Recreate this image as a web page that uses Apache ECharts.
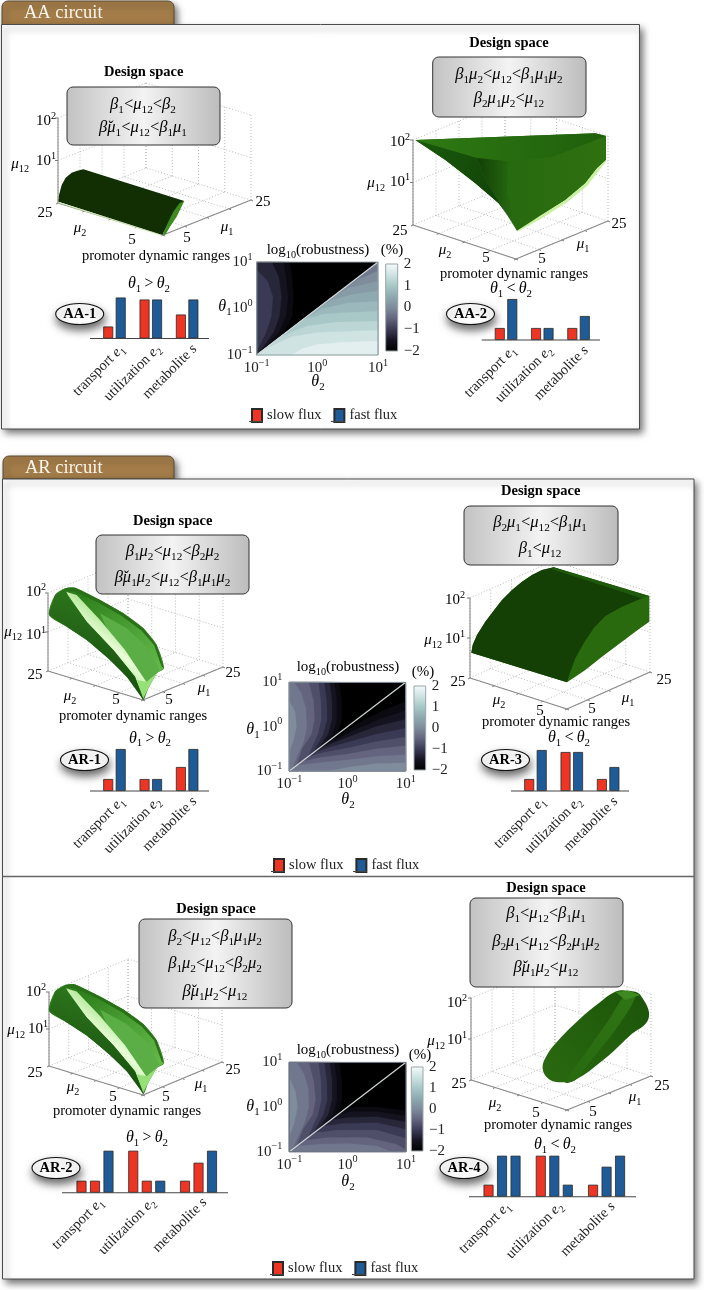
<!DOCTYPE html>
<html><head><meta charset="utf-8">
<style>html,body{margin:0;padding:0;background:#fff}#c{width:704px;height:1290px}</style>
<script src="https://cdn.jsdelivr.net/npm/echarts@6/dist/echarts.min.js"></script>
</head><body><div id="c"></div>
<script>
// ---------- bar data (relative promoter levels) ----------
const barCategories = ['transport ~e_1', 'utilization ~e_2', 'metabolite ~s'];
const aa1Slow = [12, 39, 24], aa1Fast = [41, 39, 39];
const aa2Slow = [12, 12, 12], aa2Fast = [41, 12, 24];
const ar1Slow = [12, 12, 24], ar1Fast = [42, 12, 42];
const ar3Slow = [12, 39, 12], ar3Fast = [41, 39, 24];
const ar2First = [12, 42, 12], ar2Second = [12, 12, 30], ar2Third = [42, 12, 42];
const ar2FirstFlux = ['slow', 'slow', 'slow'], ar2SecondFlux = ['slow', 'slow', 'slow'], ar2ThirdFlux = ['fast', 'fast', 'fast'];
const ar4First = [12, 41, 12], ar4Second = [41, 41, 30], ar4Third = [41, 12, 41];
const ar4FirstFlux = ['slow', 'slow', 'slow'], ar4SecondFlux = ['fast', 'fast', 'fast'], ar4ThirdFlux = ['fast', 'fast', 'fast'];
// ---------- tick labels ----------
const colorbarTicks = [-2, -1, 0, 1, 2];
const muTicks = [5, 10, 15, 20, 25];
const logMu12Ticks = [1, 2];
// ---------- robustness maps: contour lines.
// Level letters: a=-2 ... q=+2 in 0.25 steps. Points are [column,row] on a 24x24 log-theta lattice (row 0 = theta1 10^1).
const aaUpperBase = 'a', aaLowerBase = 'h';
const aaUpperBands = [
 ['b',[[6.5,0],[7,4],[7.3,9],[7,14],[5.5,18],[3,21],[0,24]]],
 ['c',[[5.3,0],[5.8,4],[6.2,9],[5.8,14],[4.5,18],[2.4,21],[0,24]]],
 ['d',[[3,0],[4.4,4],[4.9,9],[4.5,14],[3.4,18],[1.8,21],[0,24]]],
 ['e',[[0,2],[2.2,5],[3.2,9],[2.9,14],[1.9,18],[0.8,21],[0,23]]]
];
const aaLowerBands = [
 ['i',[[17,7],[20,4.5],[24,2.3]]],
 ['j',[[14.5,9.5],[18,6.8],[24,4.9]]],
 ['k',[[12,12],[15,9.8],[19,8.3],[24,7.5]]],
 ['l',[[9.5,14.5],[13,12],[18,10.6],[24,10.1]]],
 ['m',[[7,17],[9,15],[13,13.5],[18,13],[24,12.7]]],
 ['n',[[4,20],[7,18],[10,16.5],[16,15.5],[24,15.3]]],
 ['o',[[1.5,22.5],[4,21],[7,19.3],[12,18.2],[24,17.6]]],
 ['p',[[7,24],[9,22.4],[12,21.3],[17,20.7],[24,20.4]]]
];
const ar1UpperBase = 'a', ar1LowerBase = 'a';
const ar1UpperBands = [
 ['b',[[10.3,0],[10.8,5],[10.8,10],[10,14],[7.8,16.2]]],
 ['c',[[9.3,0],[9.8,5],[9.8,10],[9,14],[6.8,17.2]]],
 ['d',[[8.3,0],[8.8,5],[8.8,10],[8,14],[5.8,18.2]]],
 ['e',[[7.2,0],[7.7,5],[7.8,10],[7,14],[4.8,19.2]]],
 ['f',[[6,0],[6.5,5],[6.6,10],[5.9,14],[3.8,20.2]]],
 ['g',[[4,0],[5,5],[5.2,10],[4.6,14],[2.6,18],[1.5,22.5]]],
 ['h',[[1,0],[2.5,3],[3.4,7],[3.6,12],[3,16],[1.6,20],[0.6,23.4]]],
 ['i',[[0,5],[1.2,8],[1.5,12],[0.8,16],[0,19]]]
];
const ar1LowerBands = [
 ['b',[[7.8,16.2],[11,13.8],[15,10.5],[19,7.8],[24,5.2]]],
 ['c',[[6.8,17.2],[10,15.2],[14,12.6],[19,9.8],[24,7.6]]],
 ['d',[[5.8,18.2],[9,16.4],[13,14.4],[18,11.9],[24,10]]],
 ['e',[[4.8,19.2],[8,17.7],[12,16.2],[18,14],[24,12.4]]],
 ['f',[[3.8,20.2],[7,19],[12,17.8],[18,16],[24,14.8]]],
 ['g',[[2.6,21.4],[6,20.4],[12,19.4],[18,18],[24,17.2]]],
 ['h',[[1.5,22.5],[6,21.8],[12,21],[18,20],[24,19.6]]],
 ['i',[[8,24],[12,23],[18,22],[24,21.8]]]
];
const ar2UpperBase = 'a', ar2LowerBase = 'a';
const ar2UpperBands = [
 ['b',[[10.3,0],[10.8,5],[10.8,10],[10,14],[7.8,16.2]]],
 ['c',[[9.3,0],[9.8,5],[9.8,10],[9,14],[6.8,17.2]]],
 ['d',[[8.3,0],[8.8,5],[8.8,10],[8,14],[5.8,18.2]]],
 ['e',[[7.2,0],[7.7,5],[7.8,10],[7,14],[4.8,19.2]]],
 ['f',[[6,0],[6.5,5],[6.6,10],[5.9,14],[3.8,20.2]]],
 ['g',[[4,0],[5,5],[5.4,10],[4.8,14],[2.8,18],[1.5,22.5]]],
 ['h',[[1.5,0],[3,3],[3.9,7],[4,12],[3.2,16],[1.8,20],[0.6,23.4]]],
 ['i',[[0,4],[1.3,8],[1.7,12],[1,16.5],[0,20]]]
];
const ar2LowerBands = [
 ['b',[[11.5,12.5],[14,12],[18,12],[24,13]]],
 ['c',[[10,14],[13,13.2],[18,13.2],[24,14.4]]],
 ['d',[[8.5,15.5],[12,14.8],[18,14.6],[24,16]]],
 ['e',[[6.8,17.2],[11,16.4],[18,16.2],[24,18]]],
 ['f',[[5,19],[10,18.2],[18,18.2],[24,20.4]]],
 ['g',[[3,21],[8,20.2],[16,20.2],[22,22],[24,23.5]]],
 ['h',[[1.5,22.5],[6,22],[12,21.8],[18,22.5],[21,24]]]
];
const colorStops = ['#000000','#15131f','#3b3a55','#64647e','#7e8c9c','#8eaab0','#a8c8c8','#cfe3e3','#f6fbfb'];
// ---------- 3-D frames: corners of the box as seen in the picture ----------
const frames = [
 {L:[58,203],F:[163,235],R:[251,200],H:85},
 {L:[413,225],F:[516,259],R:[608,221],H:85},
 {L:[48,671],F:[143,700],R:[223,667],H:78},
 {L:[470,678],F:[567,709],R:[650,672],H:80},
 {L:[49,1066],F:[143,1095],R:[222,1062],H:74},
 {L:[471,1080],F:[567,1110],R:[651,1076],H:82}
];
const frameLabels = [
 {t2:[56,121],t1:[56,161],m:[29,164],a:[45,213],b:[80,228],c:[132,240],d:[187,238],e:[227,227],f:[263,202],p:[156,256]},
 {t2:[410,142],t1:[410,182],m:[385,183],a:[400,231],b:[445,250],c:[486,258],d:[542,259],e:[583,244],f:[619,224],p:[514,274]},
 {t2:[46,592],t1:[46,635],m:[22,632],a:[35,675],b:[70,696],c:[116,700],d:[169,700],e:[204,688],f:[233,673],p:[133,716]},
 {t2:[465,600],t1:[465,639],m:[442,640],a:[458,682],b:[499,700],c:[540,711],d:[592,709],e:[628,698],f:[664,680],p:[556,722]},
 {t2:[46,992],t1:[48,1029],m:[25,1030],a:[35,1073],b:[73,1087],c:[113,1097],d:[166,1097],e:[201,1084],f:[233,1070],p:[127,1111]},
 {t2:[467,1003],t1:[467,1040],m:[445,1041],a:[459,1084],b:[495,1103],c:[536,1113],d:[593,1112],e:[635,1097],f:[662,1086],p:[558,1125]}
];
// ---------- surfaces: outline facets ----------
const aa1Facets = [
 {p:[[175,605],[177,585],[185,555],[197,533],[215,518],[232,512],[250,508],[553,603],[542,612],[530,625],[515,650],[500,680],[487,705]],c:'#112f03'},
 {p:[[553,603],[538,610],[520,635],[505,665],[487,705],[497,703],[510,680],[530,650]],c:'#3e8a1e'},
 {p:[[175,605],[487,705],[487,708],[175,609]],c:'#cfe8b0'}
];
const aa2Facets = [
 {p:[[190,360],[730,340],[762,348],[762,420],[735,445],[700,490],[640,540],[560,590],[530,615],[495,632],[480,600],[440,550],[370,490],[280,420]],c:'#2a6a10'},
 {p:[[190,360],[730,340],[762,348],[600,412],[470,424],[375,414]],g:[0,0,1,0,['#2f7a14','#1f5f0b']]},
 {p:[[190,360],[375,414],[400,480],[495,632],[465,585],[440,550],[370,490],[280,420]],g:[0,0,1,1,['#1a5a0c','#0e3a06']]},
 {p:[[375,414],[470,424],[465,510],[495,632],[400,480]],g:[0,0,1,0,['#123f06','#2a6f12']]},
 {p:[[470,424],[600,412],[762,348],[762,420],[735,445],[700,490],[640,540],[560,590],[495,632],[465,510]],g:[0,0,1,0,['#276a0f','#2f7010']]},
 {p:[[495,632],[560,590],[640,540],[700,490],[735,445],[762,420],[762,425],[742,450],[706,497],[646,546],[566,597],[500,633]],c:'#c8f0a0'}
];
const ar1Facets = [
 {s:0.25,p:[[147,405],[165,345],[195,325],[225,323],[300,360],[370,400],[430,445],[470,495],[492,565],[470,580],[445,625],[430,660],[415,630],[380,590],[330,540],[260,480],[200,440]],c:'#2f7f1c'},
 {p:[[225,323],[300,360],[370,400],[430,445],[470,495],[492,565],[470,580],[445,625],[400,560],[330,470],[225,345]],g:[0,0,1,1,['#2a7a18','#4aa034','#6cc050']]},
 {p:[[300,400],[380,445],[440,500],[478,570],[470,580],[445,620],[400,550],[330,465]],c:'#5bad45'},
 {p:[[197,335],[230,345],[300,420],[375,510],[445,615],[430,650],[405,590],[340,510],[260,425]],g:[0,1,1,0,['#2f7f1c','#7ccc60','#eaffd8','#8fd870','#4fa53a']]},
 {p:[[147,405],[165,345],[195,326],[205,350],[260,425],[340,510],[405,590],[430,660],[380,590],[330,540],[260,480],[200,440]],g:[0.6,0,0.3,1,['#2f7a1e','#14480c']]},
 {p:[[410,600],[440,605],[470,580],[445,625],[430,655]],c:'#96e078'},
 {p:[[195,325],[225,323],[300,360],[370,400],[430,445],[470,495],[492,565],[485,560],[462,495],[425,452],[365,408],[295,368],[225,335],[200,333]],c:'#2a7018'}
];
const ar3Facets = [
 {p:[[358,518],[362,495],[375,465],[400,425],[425,392],[450,360],[480,330],[510,305],[540,285],[570,270],[605,262],[892,348],[892,425],[860,448],[830,470],[790,500],[750,530],[700,570],[670,590],[645,607]],c:'#2a6a0f'},
 {p:[[358,518],[362,495],[375,465],[400,425],[425,392],[450,360],[480,330],[510,305],[540,285],[570,270],[605,262],[870,355],[810,380],[760,408],[725,445],[695,490],[670,535],[655,575],[645,607]],c:'#143f05'},
 {p:[[605,262],[892,348],[870,355],[600,268]],c:'#1f5a0c'}
];
const ar4Facets = [
 {s:0.4,p:[[572,565],[585,525],[620,480],[680,420],[740,370],[790,335],[830,332],[865,345],[890,415],[830,470],[760,535],[670,600],[630,607],[590,597]],g:[0,1,1,0,['#2a6a10','#1c5409']]},
 {s:0.3,p:[[820,345],[850,350],[790,450],[710,550],[670,600],[640,607],[700,520],[770,420]],g:[0,1,1,0,['#276a10','#2f7414']]},
 {p:[[790,335],[830,332],[865,345],[820,360]],c:'#3f8a20'}
];

const FONT = 'Liberation Serif', INK = '#222';
const rich = (s, b) => ({
  n:{fontFamily:FONT,fontSize:s,fontWeight:b?'bold':'normal',color:INK,lineHeight:s+5},
  it:{fontFamily:FONT,fontSize:s,fontStyle:'italic',color:INK,lineHeight:s+5},
  sub:{fontFamily:FONT,fontSize:s*0.68,color:INK,verticalAlign:'bottom'},
  sup:{fontFamily:FONT,fontSize:s*0.68,color:INK,verticalAlign:'top'}
});
function rt(str){
  const re=/_\{([^}]*)\}|_(.)|\^\{([^}]*)\}|\^(.)|~(.)|([βμθ]\u030C?)|([^_^~βμθ]+)/g;
  let out='',m;
  while((m=re.exec(str))){
    if(m[1]!==undefined||m[2]!==undefined) out+='{sub|'+(m[1]||m[2])+'}';
    else if(m[3]!==undefined||m[4]!==undefined) out+='{sup|'+(m[3]||m[4])+'}';
    else if(m[5]||m[6]) out+='{it|'+(m[5]||m[6])+'}';
    else out+='{n|'+m[7]+'}';
  }
  return out;
}
const tenLabel = v => rt('10^{'+(v<0?'\u2212':'')+Math.abs(v)+'}');

// ---------- option containers ----------
const grids=[{left:0,top:0,width:704,height:1290}];
const xAxes=[{type:'value',min:0,max:704,show:false,gridIndex:0}];
const yAxes=[{type:'value',min:0,max:1290,inverse:true,show:false,gridIndex:0}];
const series=[];
const g=[]; // graphic elements

// ---------- frames ----------
series.push({type:'custom',name:'frames',xAxisIndex:0,yAxisIndex:0,clip:false,silent:true,z:2,
 data:frames.map((f,i)=>[i,0]),
 renderItem(_,api){
  const f=frames[api.value(0)], kids=[];
  const B=[f.L[0]+f.R[0]-f.F[0],f.L[1]+f.R[1]-f.F[1]];
  const lerp=(a,b,t)=>[a[0]+(b[0]-a[0])*t,a[1]+(b[1]-a[1])*t];
  const up=(p,z)=>[p[0],p[1]-f.H*z/2];
  const seg=(a,b,dash,col,w)=>{const A=api.coord(a),C=api.coord(b);kids.push({type:'line',shape:{x1:A[0],y1:A[1],x2:C[0],y2:C[1]},style:{stroke:col,lineWidth:w,lineDash:dash?[1,2]:null}});};
  muTicks.forEach(m=>{const t=(m-5)/20;
    seg(lerp(f.F,f.R,t),lerp(f.L,B,t),1,'#bcbcbc',1);
    seg(lerp(f.F,f.L,t),lerp(f.R,B,t),1,'#bcbcbc',1);
    const a=lerp(f.L,B,t),b=lerp(B,f.R,t);
    seg(a,up(a,2),1,'#bcbcbc',1);
    seg(b,up(b,2),1,'#bcbcbc',1);
    const e=lerp(f.F,f.R,t),h=lerp(f.F,f.L,t);
    seg(e,[e[0]+2,e[1]+1],0,'#777',1);
    seg(h,[h[0]-2,h[1]+1],0,'#777',1);
  });
  logMu12Ticks.forEach(z=>{seg(up(f.L,z),up(B,z),1,'#bcbcbc',1);seg(up(B,z),up(f.R,z),1,'#bcbcbc',1);seg(up(f.L,z),[f.L[0]-3,up(f.L,z)[1]],0,'#777',1);});
  seg(f.L,f.F,0,'#8a8a8a',1.1);seg(f.F,f.R,0,'#8a8a8a',1.1);seg(f.L,up(f.L,2),0,'#8a8a8a',1.1);
  return {type:'group',children:kids};
 }});
// ---------- surfaces ----------
const off=(fs,ox,oy,sy,dy)=>fs.map(f=>Object.assign({},f,{p:f.p.map(q=>[ox+q[0]/3,oy+(q[1]*(sy||1)+(dy||0))/3])}));
const facets=[].concat(off(aa1Facets,0,0),off(aa2Facets,352,20),off(ar1Facets,0,480),off(ar3Facets,352,480),off(ar1Facets,0,880,0.976,-2),off(ar4Facets,352,880));
series.push({type:'custom',name:'surfaces',xAxisIndex:0,yAxisIndex:0,clip:false,silent:true,z:3,
 data:facets.map((f,i)=>[i,0]),
 renderItem(_,api){
  const f=facets[api.value(0)];
  let fill=f.c;
  if(f.g){const st=f.g[4];fill=new echarts.graphic.LinearGradient(f.g[0],f.g[1],f.g[2],f.g[3],st.map((c,i)=>({offset:i/(st.length-1),color:c})));}
  return {type:'polygon',shape:{points:f.p.map(q=>api.coord(q)),smooth:f.s||0},style:{fill:fill}};
 }});

// ---------- bars ----------
const RED='#ee3524', BLUE='#1f5b96';
const barStyle=c=>({color:c,borderColor:'#2a2a2a',borderWidth:0.8});
function addBars(cfg){
 const i=grids.length, H=44;
 grids.push({left:cfg.left,width:cfg.width,top:cfg.base-H,height:H});
 xAxes.push({type:'category',gridIndex:i,data:barCategories,axisTick:{show:false},axisLine:{show:false},
  axisLabel:{interval:0,rotate:45,margin:cfg.margin,padding:[0,-cfg.pad,0,0],formatter:v=>rt(v),rich:rich(14.5)}});
 yAxes.push({type:'value',gridIndex:i,min:0,max:H,show:false});
 cfg.series.forEach(s=>series.push({type:'bar',name:s.name,xAxisIndex:i,yAxisIndex:i,barWidth:10,barGap:cfg.gap,
   itemStyle:barStyle(s.flux?RED:(s.name==='slow flux'?RED:BLUE)),
   data:s.flux?s.data.map((v,k)=>({value:v,itemStyle:barStyle(s.flux[k]==='slow'?RED:BLUE)})):s.data}));
}
const two=(a,b)=>[{name:'slow flux',data:a},{name:'fast flux',data:b}];
addBars({left:96.3,width:109,base:338.5,gap:'25%',margin:16,pad:11,series:two(aa1Slow,aa1Fast)});
addBars({left:487.9,width:108.8,base:340,gap:'25%',margin:16,pad:11,series:two(aa2Slow,aa2Fast)});
addBars({left:96.3,width:109,base:791,gap:'25%',margin:16,pad:11,series:two(ar1Slow,ar1Fast)});
addBars({left:517.3,width:109,base:791,gap:'25%',margin:16,pad:11,series:two(ar3Slow,ar3Fast)});
addBars({left:69.1,width:155.3,base:1192.7,gap:'35%',margin:14,pad:9,series:[{name:'AR-2 first',data:ar2First,flux:ar2FirstFlux},{name:'AR-2 second',data:ar2Second,flux:ar2SecondFlux},{name:'AR-2 third',data:ar2Third,flux:ar2ThirdFlux}]});
addBars({left:475.9,width:156.8,base:1196.7,gap:'35%',margin:14,pad:9,series:[{name:'AR-4 first',data:ar4First,flux:ar4FirstFlux},{name:'AR-4 second',data:ar4Second,flux:ar4SecondFlux},{name:'AR-4 third',data:ar4Third,flux:ar4ThirdFlux}]});

// ---------- robustness maps ----------
const levelOf=ch=>-2+0.25*(ch.charCodeAt(0)-97);
const toTheta=q=>[-1+q[0]/12,1-q[1]/12];
const heatSeriesIdx=[];
function addHeat(cfg){
 const i=grids.length;
 grids.push({left:cfg.x0,width:cfg.x1-cfg.x0,top:cfg.y0,height:cfg.y1-cfg.y0});
 const ax=m=>({type:'value',gridIndex:i,min:-1,max:1,interval:1,axisLine:{show:false},axisTick:{show:false},splitLine:{show:false},
   axisLabel:{formatter:v=>tenLabel(v),rich:rich(15),margin:m,showMinLabel:true,showMaxLabel:true,hideOverlap:false}});
 xAxes.push(ax(3));yAxes.push(ax(cfg.yMargin));
 const data=[[levelOf(cfg.upBase),0,-1]];
 cfg.up.forEach((b,k)=>data.push([levelOf(b[0]),0,k]));
 data.push([levelOf(cfg.lowBase),1,-1]);
 cfg.low.forEach((b,k)=>data.push([levelOf(b[0]),1,k]));
 heatSeriesIdx.push(series.length);
 series.push({type:'custom',name:cfg.name,xAxisIndex:i,yAxisIndex:i,silent:true,clip:false,data,
  renderItem(_,api){
   const kind=api.value(1),k=api.value(2);
   let pts;
   if(k<0) pts=kind===0?[[0,24],[0,0],[24,0]]:[[0,24],[24,0],[24,24]];
   else if(kind===0) pts=[[0,0]].concat(cfg.up[k][1],[[0,24]]);
   else pts=cfg.low[k][1].concat([[24,24],[0,24]]);
   const col=api.visual('color');
   return {type:'polygon',shape:{points:pts.map(q=>api.coord(toTheta(q)))},style:{fill:col,stroke:col,lineWidth:0.2}};
  }});
 series.push({type:'line',xAxisIndex:i,yAxisIndex:i,silent:true,symbol:'none',z:4,lineStyle:{color:'#cfd6d6',width:1.2},data:[[-1,-1],[1,1]]});
 series.push({type:'line',xAxisIndex:i,yAxisIndex:i,silent:true,symbol:'none',z:4,lineStyle:{color:cfg.edge,width:1.2},data:[[-1,-1],[1,-1],[1,1],[-1,1],[-1,-1]]});
 // colour bar
 const j=grids.length;
 grids.push({left:cfg.cx0,width:cfg.cx1-cfg.cx0,top:cfg.cy0,height:cfg.cy1-cfg.cy0});
 xAxes.push({type:'value',gridIndex:j,min:0,max:1,show:false});
 yAxes.push({type:'value',gridIndex:j,min:colorbarTicks[0],max:colorbarTicks[4],interval:1,position:'right',axisLine:{show:false},axisTick:{show:false},splitLine:{show:false},
   axisLabel:{margin:6,fontFamily:FONT,fontSize:15,color:INK,formatter:v=>(v<0?'\u2212':'')+Math.abs(v)}});
 series.push({type:'custom',name:cfg.name+' colour bar',xAxisIndex:j,yAxisIndex:j,silent:true,clip:false,data:[[0,colorbarTicks[0],1,colorbarTicks[4]]],encode:{x:[0,2],y:[1,3]},
  renderItem(_,api){
   const a=api.coord([api.value(0),api.value(1)]),b=api.coord([api.value(2),api.value(3)]);
   return {type:'rect',shape:{x:a[0],y:b[1],width:b[0]-a[0],height:a[1]-b[1]},
    style:{stroke:'#9aa6a8',lineWidth:1,fill:new echarts.graphic.LinearGradient(0,1,0,0,colorStops.map((c,k)=>({offset:k/(colorStops.length-1),color:c})))}};
  }});
}
addHeat({name:'AA map',x0:256.7,x1:378,y0:262,y1:355,cx0:385.7,cx1:397.7,cy0:264,cy1:351,yMargin:4,up:aaUpperBands,low:aaLowerBands,upBase:aaUpperBase,lowBase:aaLowerBase,edge:'#8f9fa4'});
addHeat({name:'AR-1/3 map',x0:289.3,x1:405.7,y0:682.3,y1:771,cx0:414,cx1:425.7,cy0:686,cy1:770,yMargin:7,up:ar1UpperBands,low:ar1LowerBands,upBase:ar1UpperBase,lowBase:ar1LowerBase,edge:'#7d8a96'});
addHeat({name:'AR-2/4 map',x0:289.3,x1:406,y0:1062.3,y1:1151.7,cx0:411.3,cx1:423,cy0:1067,cy1:1151,yMargin:7,up:ar2UpperBands,low:ar2LowerBands,upBase:ar2UpperBase,lowBase:ar2LowerBase,edge:'#6d7484'});

// ---------- baselines and legend underlines ----------
const legends=[[251,408],[273,858],[272,1261]];
const rules=[[90,209,338.5],[481.7,600,340],[90,209,791],[511,629,791],[62,228,1192.7],[469,636,1196.7]];
const underlines=[];
legends.forEach(l=>{underlines.push([l[0]-2,l[0]+12,l[1]+13.5]);underlines.push([l[0]+80,l[0]+94,l[1]+13.5]);});
series.push({type:'custom',name:'baselines',xAxisIndex:0,yAxisIndex:0,clip:false,silent:true,z:5,
 data:rules.concat(underlines),
 renderItem(_,api){
  const a=api.coord([api.value(0),api.value(2)]),b=api.coord([api.value(1),api.value(2)]);
  return {type:'line',shape:{x1:a[0],y1:a[1],x2:b[0],y2:b[1]},style:{stroke:'#444',lineWidth:1.1}};
 }});

// ---------- panels ----------
const SH={shadowBlur:7,shadowOffsetX:3,shadowOffsetY:4,shadowColor:'rgba(0,0,0,0.55)'};
function panel(x,y,w,h){g.push({type:'rect',z:0,silent:true,shape:{x,y,width:w,height:h},style:Object.assign({fill:'#fff',stroke:'#4a4a4a',lineWidth:1},SH)});}
function tab(x,y,w,h,t){
 g.push({type:'rect',z:0,silent:true,shape:{x,y,width:w,height:h,r:[6,6,0,0]},style:Object.assign({fill:'#a37c49',stroke:'#5a4a30',lineWidth:1},SH)});
 g.push({type:'text',z:1,silent:true,style:{text:t,x:x+22,y:y+h/2+0.5,verticalAlign:'middle',fill:'#fbf6ec',font:'18.5px "'+FONT+'"'}});
}
tab(2,1,172,23.5,'AA circuit');tab(3,456,171,23,'AR circuit');
panel(1.5,24.5,638,404.5);panel(2.5,479,691.5,800);
g.push({type:'line',z:1,silent:true,shape:{x1:2.5,y1:876.5,x2:694,y2:876.5},style:{stroke:'#666',lineWidth:1.4}});

function text(t,x,y,o){o=o||{};
 g.push({type:'text',z:60,silent:true,style:{text:rt(t),x,y,align:o.align||'center',verticalAlign:'middle',rich:rich(o.size||15,o.bold)}});
}
function box(x0,x1,y0,y1){
 g.push({type:'rect',z:50,silent:true,shape:{x:x0,y:y0,width:x1-x0,height:y1-y0,r:6},
  style:{stroke:'#333',lineWidth:1,fill:new echarts.graphic.LinearGradient(0,0,1,0,[{offset:0,color:'#c2c2c2'},{offset:0.5,color:'#f3f3f3'},{offset:1,color:'#bcbcbc'}])}});
}
const C='\u030C', TS='\u2009';
const designs=[
 {b:[67,220,87,145],t:[143.7,72.5],l:[[143,105,'β_1<μ_{12}<β_2'],[143,128,'β'+C+'μ_1<μ_{12}<β_1μ_1']]},
 {b:[432.7,586,57,117],t:[509,43.5],l:[[509,75,'β_1μ_2<μ_{12}<β_1μ_1μ_2'],[509,99,'β_2μ_1μ_2<μ_{12}']]},
 {b:[96,249,535,594],t:[172.7,521],l:[[172.5,552,'β_1μ_2<μ_{12}<β_2μ_2'],[172.5,578,'β'+C+'μ_1μ_2<μ_{12}<β_1μ_1μ_2']]},
 {b:[464,618,506,565],t:[540.7,491.5],l:[[540,523,'β_2μ_1<μ_{12}<β_1μ_1'],[540,549,'β_1<μ_{12}']]},
 {b:[139,292,919,1008],t:[216,909],l:[[215,937,'β_2<μ_{12}<β_1μ_1μ_2'],[215,964,'β_1μ_2<μ_{12}<β_2μ_2'],[215,992,'β'+C+'μ_1μ_2<μ_{12}']]},
 {b:[470,623,898,987],t:[546,888],l:[[546,914,'β_1<μ_{12}<β_1μ_1'],[546,942,'β_2μ_1<μ_{12}<β_2μ_1μ_2'],[546,968,'β'+C+'μ_1μ_2<μ_{12}']]}
];
designs.forEach(d=>{box(d.b[0],d.b[1],d.b[2],d.b[3]);text('Design space',d.t[0],d.t[1],{bold:1,size:14.5});d.l.forEach(q=>text(q[2],q[0],q[1],{size:16.5}));});
frameLabels.forEach(l=>{
 text('10^2',l.t2[0],l.t2[1],{align:'right'});text('10^1',l.t1[0],l.t1[1],{align:'right'});
 text('μ_{12}',l.m[0],l.m[1],{align:'right'});text('25',l.a[0],l.a[1]);text('μ_2',l.b[0],l.b[1]);
 text('5',l.c[0],l.c[1]);text('5',l.d[0],l.d[1]);text('μ_1',l.e[0],l.e[1]);text('25',l.f[0],l.f[1]);
 text('promoter dynamic ranges',l.p[0],l.p[1],{size:14.5});
});
[['θ_1'+TS+'>'+TS+'θ_2',149,284],['θ_1'+TS+'<'+TS+'θ_2',511,289],['θ_1'+TS+'>'+TS+'θ_2',150,738.5],['θ_1'+TS+'<'+TS+'θ_2',569,738],['θ_1'+TS+'>'+TS+'θ_2',147,1138],['θ_1'+TS+'<'+TS+'θ_2',555,1145]].forEach(q=>text(q[0],q[1],q[2],{size:16}));
[['AA-1',79.7,314],['AA-2',470.5,314],['AR-1',84.5,760],['AR-3',505.5,760],['AR-2',56,1168],['AR-4',464,1168]].forEach(q=>{
 g.push({type:'ellipse',z:50,silent:true,shape:{cx:q[1],cy:q[2],rx:24,ry:10.5},style:{fill:'#fff',stroke:'#111',lineWidth:1.1,shadowBlur:8,shadowOffsetX:1,shadowOffsetY:5,shadowColor:'rgba(0,0,0,0.6)'}});
 text(q[0],q[1],q[2],{bold:1,size:14.5});
});
[[318,250,318,382,225,307,392,250],[348,667,348,800,253,730,423,672],[348,1050,348,1182,253,1107,420,1055]].forEach(q=>{
 text('log_{10}(robustness)',q[0],q[1],{size:15});text('θ_2',q[2],q[3],{size:16});text('θ_1',q[4],q[5],{size:16});text('(%)',q[6],q[7],{size:15});
});

const legendOpts=legends.map(l=>({left:l[0],top:l[1],padding:0,itemWidth:10,itemHeight:13,itemGap:12,icon:'rect',selectedMode:false,
  data:['slow flux','fast flux'],textStyle:{fontFamily:FONT,fontSize:14.5,color:INK}}));

const chart=echarts.init(document.getElementById('c'),null,{renderer:'canvas'});
chart.setOption({
 animation:false,backgroundColor:'#fff',textStyle:{fontFamily:FONT},
 grid:grids,xAxis:xAxes,yAxis:yAxes,series,legend:legendOpts,
 visualMap:[{type:'continuous',show:false,min:-2,max:2,dimension:0,seriesIndex:heatSeriesIdx,inRange:{color:colorStops}}],
 graphic:{elements:g}
});
</script></body></html>
